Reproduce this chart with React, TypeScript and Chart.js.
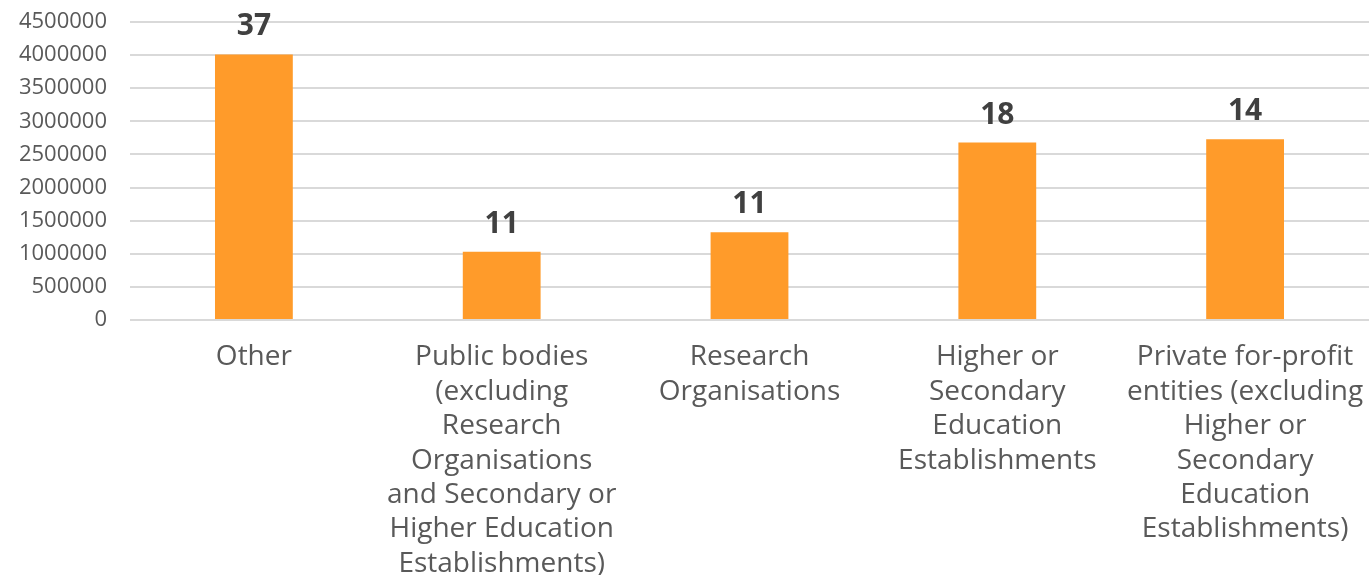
import React, { useEffect, useRef } from "react";
import { Chart, registerables } from "chart.js";

Chart.register(...registerables);

const categories: string[][] = [
  ["Other"],
  ["Public bodies", "(excluding", "Research", "Organisations", "and Secondary or", "Higher Education", "Establishments)"],
  ["Research", "Organisations"],
  ["Higher or", "Secondary", "Education", "Establishments"],
  ["Private for-profit", "entities (excluding", "Higher or", "Secondary", "Education", "Establishments)"],
];
const amounts: number[] = [4010000, 1030000, 1325000, 2680000, 2730000];
const counts: number[] = [37, 11, 11, 18, 14];
const yMin = 0;
const yMax = 4500000;
const yStep = 500000;

const FONT = "'Open Sans', 'DejaVu Sans', sans-serif";

const countLabels = {
  id: "countLabels",
  afterDatasetsDraw(chart: any) {
    const ctx = chart.ctx;
    const meta = chart.getDatasetMeta(0);
    ctx.save();
    ctx.font = `bold 30px ${FONT}`;
    ctx.fillStyle = "#404040";
    ctx.textAlign = "center";
    ctx.textBaseline = "alphabetic";
    meta.data.forEach((bar: any, i: number) => {
      ctx.fillText(String(counts[i]), bar.x, bar.y - 19);
    });
    ctx.restore();
  },
};

export default function App() {
  const ref = useRef<HTMLCanvasElement>(null);
  useEffect(() => {
    if (!ref.current) return;
    const chart = new Chart(ref.current, {
      type: "bar",
      data: {
        labels: categories,
        datasets: [
          {
            data: amounts,
            backgroundColor: "#FF9B2A",
            categoryPercentage: 1,
            barPercentage: 0.314,
          },
        ],
      },
      options: {
        animation: false,
        responsive: false,
        maintainAspectRatio: false,
        layout: { padding: { top: 22, right: 0, left: 0, bottom: 0 } },
        plugins: { legend: { display: false }, tooltip: { enabled: false } },
        scales: {
          x: {
            afterFit(scale: any) {
              scale.height = 255;
              scale.paddingRight = 0;
              scale.paddingLeft = 0;
            },
            grid: { display: false },
            border: { display: false },
            ticks: {
              autoSkip: false,
              maxRotation: 0,
              minRotation: 0,
              padding: 12,
              color: "#595959",
              font: { family: FONT, size: 28, lineHeight: 1.23 },
            },
          },
          y: {
            min: yMin,
            max: yMax,
            afterFit(scale: any) {
              scale.width = 130;
              scale.paddingTop = 0;
              scale.paddingBottom = 0;
            },
            grid: { color: "#D9D9D9", lineWidth: 2, drawTicks: false },
            border: { display: false },
            ticks: {
              stepSize: yStep,
              autoSkip: false,
              padding: 23,
              color: "#595959",
              font: { family: FONT, size: 22 },
              callback: (v: any) => String(v),
            },
          },
        },
      },
      plugins: [countLabels],
    });
    return () => chart.destroy();
  }, []);
  return (
    <div style={{ position: "fixed", left: 0, top: 0, width: 1369, height: 575, background: "#fff" }}>
      <canvas ref={ref} width={1369} height={575} style={{ width: 1369, height: 575 }} />
    </div>
  );
}
